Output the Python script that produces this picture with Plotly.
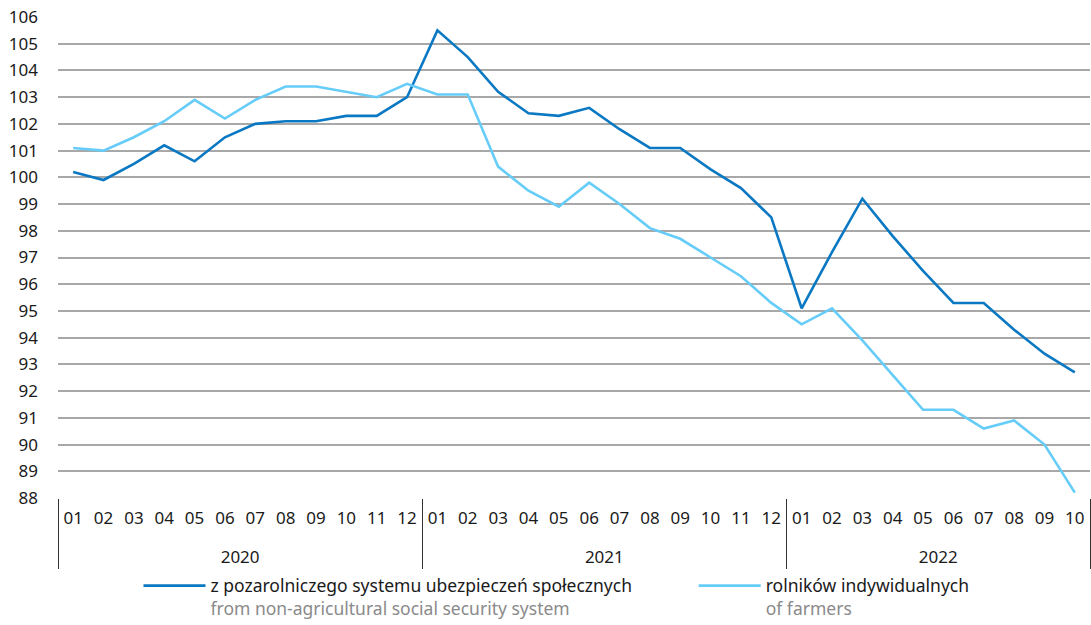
import plotly.graph_objects as go

years = ["2020", "2021", "2022"]
months = ["01", "02", "03", "04", "05", "06", "07", "08", "09", "10", "11", "12"]
n_months_last = 10

non_agri = [100.2, 99.9, 100.5, 101.2, 100.6, 101.5, 102.0, 102.1, 102.1, 102.3, 102.3, 103.0,
            105.5, 104.5, 103.2, 102.4, 102.3, 102.6, 101.8, 101.1, 101.1, 100.3, 99.6, 98.5,
            95.1, 97.2, 99.2, 97.8, 96.5, 95.3, 95.3, 94.3, 93.4, 92.7]
farmers = [101.1, 101.0, 101.5, 102.1, 102.9, 102.2, 102.9, 103.4, 103.4, 103.2, 103.0, 103.5,
           103.1, 103.1, 100.4, 99.5, 98.9, 99.8, 99.0, 98.1, 97.7, 97.0, 96.3, 95.3,
           94.5, 95.1, 93.9, 92.6, 91.3, 91.3, 90.6, 90.9, 90.0, 88.2]

name_pl_1 = "z pozarolniczego systemu ubezpieczeń społecznych"
name_en_1 = "from non-agricultural social security system"
name_pl_2 = "rolników indywidualnych"
name_en_2 = "of farmers"

# multicategory x; the empty first line pushes the year row below the month row
x_years = []
x_months = []
for i, yr in enumerate(years):
    ms = months if i < len(years) - 1 else months[:n_months_last]
    for m in ms:
        x_years.append("&nbsp;<br>" + yr)
        x_months.append(m)
n = len(x_months)

FONT = "Noto Sans"
DARK = "#0a78c2"
LIGHT = "#66ccf8"
GREY_TXT = "#8a8a8a"

fig = go.Figure()
fig.add_trace(go.Scatter(
    x=[x_years, x_months], y=non_agri, mode="lines",
    line=dict(color=DARK, width=2.6), legend="legend",
    name=name_pl_1 + "<br><span style='color:" + GREY_TXT + "'>" + name_en_1 + "</span>"))
fig.add_trace(go.Scatter(
    x=[x_years, x_months], y=farmers, mode="lines",
    line=dict(color=LIGHT, width=2.6), legend="legend2",
    name=name_pl_2 + "<br><span style='color:" + GREY_TXT + "'>" + name_en_2 + "</span>"))

rng = [-0.5, n - 0.5]
y_min, y_max = 88, 106

leg = dict(orientation="v", y=-0.145, xanchor="left", yanchor="top", valign="top",
           font=dict(size=17.5, color="#1a1a1a"), itemwidth=62,
           bgcolor="rgba(0,0,0,0)", tracegroupgap=0)

fig.update_layout(
    width=1091, height=625,
    margin=dict(l=58, r=1, t=17, b=127, autoexpand=False),
    paper_bgcolor="white", plot_bgcolor="white",
    font=dict(family=FONT, size=17, color="#1a1a1a"),
    showlegend=True,
    legend=dict(leg, x=0.078),
    legend2=dict(leg, x=0.616),
    xaxis=dict(type="multicategory", range=rng, showgrid=False, ticks="",
               showdividers=True, dividercolor="#333333", dividerwidth=1,
               tickfont=dict(size=17), ticklabelstandoff=8,
               showline=False, automargin=False),
    xaxis2=dict(overlaying="x", anchor="free", position=(100 - y_min) / (y_max - y_min),
                range=rng, tick0=-0.5, dtick=1, ticks="outside", ticklen=6,
                tickcolor="#222222", tickwidth=1.3, showticklabels=False,
                showline=True, linecolor="#222222", linewidth=1.5, showgrid=False,
                zeroline=False, automargin=False),
    xaxis3=dict(overlaying="x", anchor="free", position=0,
                range=rng, tick0=-0.5, dtick=1, ticks="outside", ticklen=34,
                tickcolor="#444444", tickwidth=1, showticklabels=False,
                showline=False, showgrid=False, zeroline=False, automargin=False),
    yaxis=dict(range=[y_min, y_max], dtick=1, showgrid=True, gridcolor="#a8a8a8",
               gridwidth=1.5, zeroline=False, ticks="", ticklabelstandoff=19,
               tickfont=dict(size=17), automargin=False),
)

fig.write_html("out.html", config={"displayModeBar": False},
               post_script="document.body.style.margin='0';document.body.style.overflow='hidden';")
